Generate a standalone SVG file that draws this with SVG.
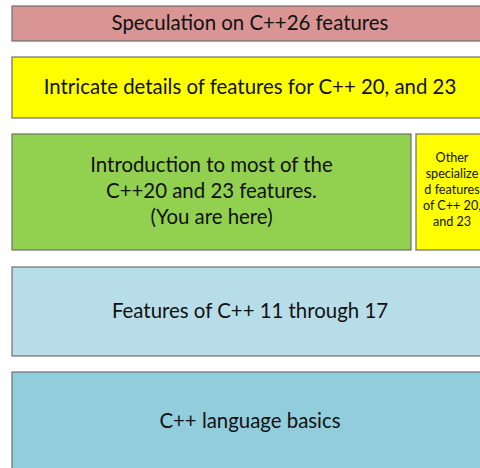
<svg xmlns="http://www.w3.org/2000/svg" width="480" height="468" viewBox="0 0 480 468">
<style>
rect{stroke:#6f6f6f;stroke-width:1.2}
text{font-family:Lato,"Liberation Sans",sans-serif;fill:#111;text-anchor:middle}
.big{font-size:20.4px}
.small{font-size:12.6px}
</style>
<rect width="480" height="468" fill="#fff" style="stroke:none"/>
<g id="spec"><rect x="12" y="6" width="478" height="35" fill="#D99594"/><text class="big" x="250" y="30">Speculation on C++26 features</text></g>
<g id="intricate"><rect x="12" y="57" width="478" height="61" fill="#FFFF00"/><text class="big" x="250" y="94">Intricate details of features for C++ 20, and 23</text></g>
<g id="intro"><rect x="12" y="134" width="399" height="116" fill="#92D050"/><text class="big" x="211.5" y="172">Introduction to most of the</text><text class="big" x="211.5" y="198">C++20 and 23 features.</text><text class="big" x="211.5" y="224">(You are here)</text></g>
<g id="other"><rect x="416" y="134" width="74" height="116" fill="#FFFF00"/><text class="small" x="452" y="162">Other</text><text class="small" x="452" y="178">specialize</text><text class="small" x="452" y="194">d features</text><text class="small" x="452" y="210">of C++ 20,</text><text class="small" x="452" y="226">and 23</text></g>
<g id="cpp11"><rect x="12" y="267" width="478" height="89" fill="#B7DEE8"/><text class="big" x="250" y="318">Features of C++ 11 through 17</text></g>
<g id="basics"><rect x="12" y="372" width="478" height="110" fill="#92CDDC"/><text class="big" x="250" y="428">C++ language basics</text></g>
<g id="connectors"/>
</svg>
